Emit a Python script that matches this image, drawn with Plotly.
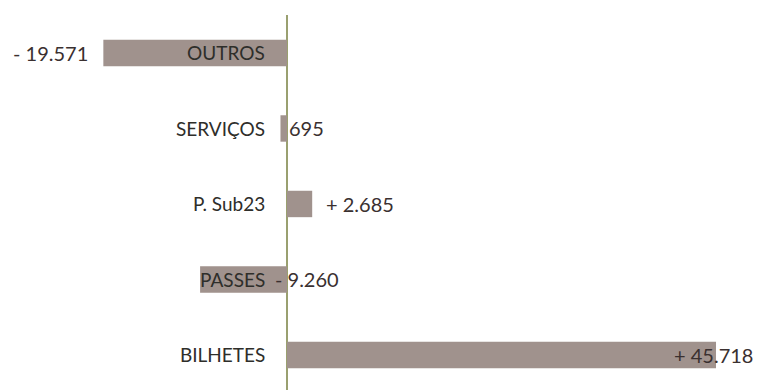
import plotly.graph_objects as go

categories = ["BILHETES", "PASSES", "P. Sub23", "SERVIÇOS", "OUTROS"]
values = [45718, -9260, 2685, -695, -19571]
value_labels = ["+ 45.718", "- 9.260", "+ 2.685", "695", "- 19.571"]

# label placement styles: (anchor base: 'end' of bar or 'zero'), xanchor, xshift
label_style = [
    ("end", "right", 39),
    ("zero", "left", -14),
    ("end", "left", 12),
    ("zero", "left", 0),
    ("end", "right", -13),
]

bar_color = "#a0928d"
text_color = "#3a3030"
font_family = "Lato, 'Open Sans', sans-serif"

fig = go.Figure()
fig.add_trace(go.Bar(
    y=categories, x=values, orientation="h",
    marker=dict(color=bar_color, line=dict(width=0)),
    width=0.35, hoverinfo="skip",
))

annotations = []
for cat, val, lab, (base, anc, shift) in zip(categories, values, value_labels, label_style):
    annotations.append(dict(
        x=val if base == "end" else 0, y=cat, xref="x", yref="y",
        text=lab, showarrow=False, xanchor=anc, xshift=shift,
        font=dict(family=font_family, size=20, color=text_color),
    ))
    annotations.append(dict(
        x=0, y=cat, xref="x", yref="y", text=cat, showarrow=False,
        xanchor="right", xshift=-20,
        font=dict(family=font_family, size=19, color="#2e2e2a"),
    ))

fig.update_layout(
    width=755, height=382,
    margin=dict(l=0, r=0, t=7, b=0),
    paper_bgcolor="white", plot_bgcolor="white",
    showlegend=False,
    xaxis=dict(range=[-29731, 50725], showgrid=False, showticklabels=False,
               zeroline=True, zerolinecolor="#9aa070", zerolinewidth=2,
               ticks="", showline=False),
    yaxis=dict(range=[-0.464, 4.503], showgrid=False, showticklabels=False,
               zeroline=False, ticks="", showline=False, type="category",
               categoryorder="array", categoryarray=categories),
    annotations=annotations,
)

fig.write_html("out.html")
